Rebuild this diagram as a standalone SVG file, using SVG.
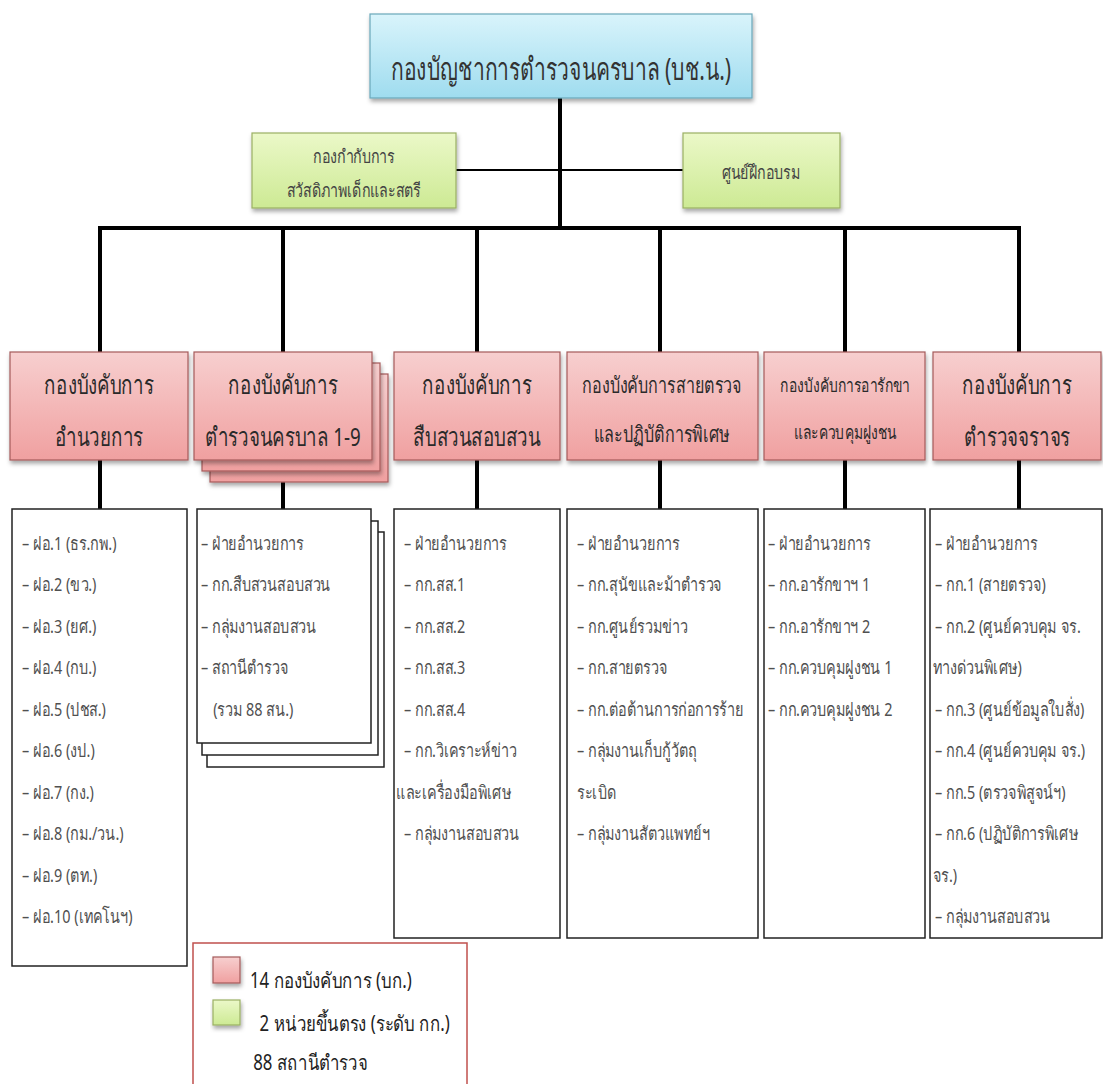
<svg xmlns="http://www.w3.org/2000/svg" width="1103" height="1084" viewBox="0 0 1103 1084">
<defs>
<linearGradient id="gBlue" x1="0" y1="0" x2="0" y2="1"><stop offset="0" stop-color="#d9f4fb"/><stop offset="1" stop-color="#9fdcef"/></linearGradient>
<linearGradient id="gRed" x1="0" y1="0" x2="0" y2="1"><stop offset="0" stop-color="#f7cfcf"/><stop offset="1" stop-color="#f0a0a0"/></linearGradient>
<linearGradient id="gGreen" x1="0" y1="0" x2="0" y2="1"><stop offset="0" stop-color="#ebf8c8"/><stop offset="1" stop-color="#cdea94"/></linearGradient>
<filter id="sh" x="-10%" y="-10%" width="130%" height="140%"><feDropShadow dx="1" dy="3" stdDeviation="2" flood-color="#000" flood-opacity="0.35"/></filter>
<style>
.t{font-family:"Noto Sans","DejaVu Sans",sans-serif;fill:#333}
.hd{font-size:26px;text-anchor:middle;fill:#2a2a2a}
.li{font-size:19px;fill:#505050}
.lg{font-size:21px;fill:#222}
.gt{font-size:19px;text-anchor:middle;fill:#444}
.red{fill:url(#gRed);stroke:#a55a5a;stroke-width:1.2;filter:url(#sh)}
.grn{fill:url(#gGreen);stroke:#9ab063;stroke-width:1.2;filter:url(#sh)}
.blu{fill:url(#gBlue);stroke:#6aa7ba;stroke-width:1.2;filter:url(#sh)}
.box{fill:#fff;stroke:#222;stroke-width:1.5}
.thick{stroke:#000;stroke-width:4;fill:none}
.thin{stroke:#000;stroke-width:2;fill:none}
</style>
</defs>
<rect width="1103" height="1084" fill="#fff"/>
<g id="connectors">
<line class="thick" x1="560" y1="98" x2="560" y2="228"/>
<line class="thin" x1="456" y1="170" x2="683" y2="170"/>
<line class="thick" x1="98" y1="228" x2="1021" y2="228"/>
<line class="thick" x1="100" y1="228" x2="100" y2="352"/>
<line class="thick" x1="283" y1="228" x2="283" y2="352"/>
<line class="thick" x1="477" y1="228" x2="477" y2="352"/>
<line class="thick" x1="660" y1="228" x2="660" y2="352"/>
<line class="thick" x1="845" y1="228" x2="845" y2="352"/>
<line class="thick" x1="1019" y1="228" x2="1019" y2="352"/>
<line class="thick" x1="100" y1="460" x2="100" y2="509"/>
<line class="thick" x1="283" y1="460" x2="283" y2="509"/>
<line class="thick" x1="477" y1="460" x2="477" y2="509"/>
<line class="thick" x1="660" y1="460" x2="660" y2="509"/>
<line class="thick" x1="845" y1="460" x2="845" y2="509"/>
<line class="thick" x1="1019" y1="460" x2="1019" y2="509"/>
</g>
<g id="top">
<rect class="blu" x="370" y="14" width="382" height="84"/>
<g transform="translate(561,0) scale(0.68,1)"><text class="t" x="0" y="80" font-size="31" text-anchor="middle" fill="#2a2a2a">กองบัญชาการตำรวจนครบาล (บช.น.)</text></g>
</g>
<g id="green-left">
<rect class="grn" x="252" y="133" width="204" height="75"/>
<g transform="translate(354,0) scale(0.75,1)">
<text class="t gt" x="0" y="163">กองกำกับการ</text>
<text class="t gt" x="0" y="197">สวัสดิภาพเด็กและสตรี</text>
</g>
</g>
<g id="green-right">
<rect class="grn" x="683" y="133" width="157" height="75"/>
<g transform="translate(761,0) scale(0.75,1)"><text class="t gt" x="0" y="179">ศูนย์ฝึกอบรม</text></g>
</g>
<g id="h1">
<rect class="red" x="10" y="352" width="178" height="108"/>
<g transform="translate(99,0) scale(0.72,1)">
<text class="t hd" x="0" y="394">กองบังคับการ</text>
<text class="t hd" x="0" y="446">อำนวยการ</text>
</g>
</g>
<g id="h2">
<rect class="red" x="210" y="374" width="178" height="108"/>
<rect class="red" x="202" y="363" width="178" height="108"/>
<rect class="red" x="194" y="352" width="178" height="108"/>
<g transform="translate(283,0) scale(0.72,1)">
<text class="t hd" x="0" y="394">กองบังคับการ</text>
<text class="t hd" x="0" y="446">ตำรวจนครบาล 1-9</text>
</g>
</g>
<g id="h3">
<rect class="red" x="394" y="352" width="166" height="108"/>
<g transform="translate(477,0) scale(0.72,1)">
<text class="t hd" x="0" y="394">กองบังคับการ</text>
<text class="t hd" x="0" y="446">สืบสวนสอบสวน</text>
</g>
</g>
<g id="h4">
<rect class="red" x="567" y="352" width="191" height="108"/>
<g transform="translate(662,0) scale(0.73,1)">
<text class="t hd" x="0" y="393" style="font-size:22px">กองบังคับการสายตรวจ</text>
<text class="t hd" x="0" y="442" style="font-size:22px">และปฏิบัติการพิเศษ</text>
</g>
</g>
<g id="h5">
<rect class="red" x="764" y="352" width="161" height="108"/>
<g transform="translate(845,0) scale(0.73,1)">
<text class="t hd" x="0" y="392" style="font-size:19px">กองบังคับการอารักขา</text>
<text class="t hd" x="0" y="439" style="font-size:19px">และควบคุมฝูงชน</text>
</g>
</g>
<g id="h6">
<rect class="red" x="933" y="352" width="168" height="108"/>
<g transform="translate(1017,0) scale(0.72,1)">
<text class="t hd" x="0" y="394">กองบังคับการ</text>
<text class="t hd" x="0" y="446">ตำรวจจราจร</text>
</g>
</g>
<g id="l1">
<rect class="box" x="12" y="509" width="175" height="457"/>
<g transform="translate(22,0) scale(0.76,1)">
<text class="t li" x="0" y="550">– ฝอ.1 (ธร.กพ.)</text>
<text class="t li" x="0" y="591.5">– ฝอ.2 (ขว.)</text>
<text class="t li" x="0" y="633">– ฝอ.3 (ยศ.)</text>
<text class="t li" x="0" y="674.5">– ฝอ.4 (กบ.)</text>
<text class="t li" x="0" y="716">– ฝอ.5 (ปชส.)</text>
<text class="t li" x="0" y="757.5">– ฝอ.6 (งป.)</text>
<text class="t li" x="0" y="799">– ฝอ.7 (กง.)</text>
<text class="t li" x="0" y="840.5">– ฝอ.8 (กม./วน.)</text>
<text class="t li" x="0" y="882">– ฝอ.9 (ตท.)</text>
<text class="t li" x="0" y="923.5">– ฝอ.10 (เทคโนฯ)</text>
</g>
</g>
<g id="l2">
<rect class="box" x="207" y="532" width="177" height="235"/>
<rect class="box" x="202" y="521" width="176" height="234"/>
<rect class="box" x="197" y="509" width="174" height="234"/>
<g transform="translate(201,0) scale(0.76,1)">
<text class="t li" x="0" y="550">– ฝ่ายอำนวยการ</text>
<text class="t li" x="0" y="591.5">– กก.สืบสวนสอบสวน</text>
<text class="t li" x="0" y="633">– กลุ่มงานสอบสวน</text>
<text class="t li" x="0" y="674.5">– สถานีตำรวจ</text>
<text class="t li" x="16" y="716">(รวม 88 สน.)</text>
</g>
</g>
<g id="l3">
<rect class="box" x="394" y="509" width="166" height="429"/>
<g transform="translate(404,0) scale(0.76,1)">
<text class="t li" x="0" y="550">– ฝ่ายอำนวยการ</text>
<text class="t li" x="0" y="591.5">– กก.สส.1</text>
<text class="t li" x="0" y="633">– กก.สส.2</text>
<text class="t li" x="0" y="674.5">– กก.สส.3</text>
<text class="t li" x="0" y="716">– กก.สส.4</text>
<text class="t li" x="0" y="757.5">– กก.วิเคราะห์ข่าว</text>
<text class="t li" x="-10" y="799">และเครื่องมือพิเศษ</text>
<text class="t li" x="0" y="840.5">– กลุ่มงานสอบสวน</text>
</g>
</g>
<g id="l4">
<rect class="box" x="567" y="509" width="191" height="429"/>
<g transform="translate(577,0) scale(0.76,1)">
<text class="t li" x="0" y="550">– ฝ่ายอำนวยการ</text>
<text class="t li" x="0" y="591.5">– กก.สุนัขและม้าตำรวจ</text>
<text class="t li" x="0" y="633">– กก.ศูนย์รวมข่าว</text>
<text class="t li" x="0" y="674.5">– กก.สายตรวจ</text>
<text class="t li" x="0" y="716">– กก.ต่อต้านการก่อการร้าย</text>
<text class="t li" x="0" y="757.5">– กลุ่มงานเก็บกู้วัตถุ</text>
<text class="t li" x="0" y="799">ระเบิด</text>
<text class="t li" x="0" y="840.5">– กลุ่มงานสัตวแพทย์ฯ</text>
</g>
</g>
<g id="l5">
<rect class="box" x="764" y="509" width="161" height="429"/>
<g transform="translate(768,0) scale(0.76,1)">
<text class="t li" x="0" y="550">– ฝ่ายอำนวยการ</text>
<text class="t li" x="0" y="591.5">– กก.อารักขาฯ 1</text>
<text class="t li" x="0" y="633">– กก.อารักขาฯ 2</text>
<text class="t li" x="0" y="674.5">– กก.ควบคุมฝูงชน 1</text>
<text class="t li" x="0" y="716">– กก.ควบคุมฝูงชน 2</text>
</g>
</g>
<g id="l6">
<rect class="box" x="930" y="509" width="172" height="429"/>
<g transform="translate(935,0) scale(0.76,1)">
<text class="t li" x="0" y="550">– ฝ่ายอำนวยการ</text>
<text class="t li" x="0" y="591.5">– กก.1 (สายตรวจ)</text>
<text class="t li" x="0" y="633">– กก.2 (ศูนย์ควบคุม จร.</text>
<text class="t li" x="-3" y="674.5">ทางด่วนพิเศษ)</text>
<text class="t li" x="0" y="716">– กก.3 (ศูนย์ข้อมูลใบสั่ง)</text>
<text class="t li" x="0" y="757.5">– กก.4 (ศูนย์ควบคุม จร.)</text>
<text class="t li" x="0" y="799">– กก.5 (ตรวจพิสูจน์ฯ)</text>
<text class="t li" x="0" y="840.5">– กก.6 (ปฏิบัติการพิเศษ</text>
<text class="t li" x="-3" y="882">จร.)</text>
<text class="t li" x="0" y="923.5">– กลุ่มงานสอบสวน</text>
</g>
</g>
<g id="legend">
<rect x="193" y="943" width="274" height="145" fill="#fff" stroke="#c0504d" stroke-width="1.5"/>
<rect class="red" x="213" y="957" width="27" height="26"/>
<rect class="grn" x="213" y="1000" width="27" height="25"/>
<g transform="translate(250,0) scale(0.8,1)">
<text class="t lg" x="0" y="988">14 กองบังคับการ (บก.)</text>
<text class="t lg" x="12" y="1031">2 หน่วยขึ้นตรง (ระดับ กก.)</text>
<text class="t lg" x="4" y="1070">88 สถานีตำรวจ</text>
</g>
</g>
</svg>
